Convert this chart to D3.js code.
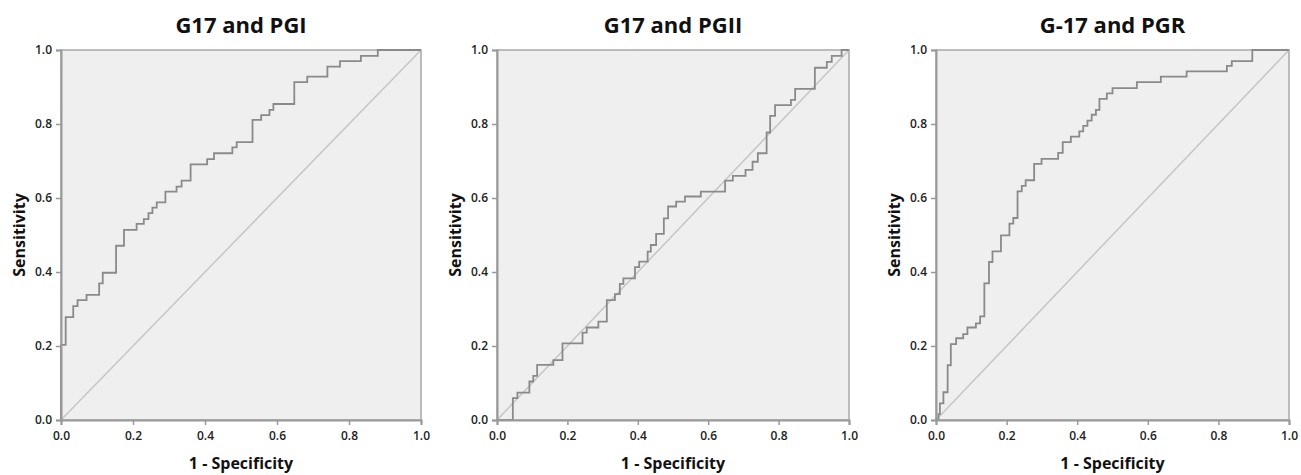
<!DOCTYPE html>
<html>
<head>
<meta charset="utf-8">
<script src="https://cdn.jsdelivr.net/npm/d3@7"></script>
<style>
    body { margin: 0; background: #fff; }
    text { font-family: "Open Sans", sans-serif; }
</style>
</head>
<body>
<script>
    // ROC curves: 1 - specificity (fpr) and sensitivity (tpr)
    var titles = ['G17 and PGI', 'G17 and PGII', 'G-17 and PGR'];
    var tickValues = [0, 0.2, 0.4, 0.6, 0.8, 1.0];

    var fprPGI = [0, 0, 0.013, 0.034, 0.046, 0.071, 0.106, 0.116, 0.153, 0.175, 0.21, 0.23, 0.243, 0.254, 0.266, 0.29, 0.321, 0.335, 0.36, 0.406, 0.425, 0.476, 0.488, 0.532, 0.556, 0.579, 0.59, 0.648, 0.684, 0.74, 0.775, 0.833, 0.88, 1.0];
    var tprPGI = [0, 0.203, 0.278, 0.308, 0.324, 0.338, 0.369, 0.398, 0.471, 0.514, 0.53, 0.543, 0.559, 0.574, 0.588, 0.617, 0.631, 0.647, 0.691, 0.705, 0.721, 0.737, 0.751, 0.811, 0.824, 0.838, 0.854, 0.913, 0.928, 0.955, 0.97, 0.984, 1.0, 1.0];

    var fprPGII = [0, 0.045, 0.058, 0.092, 0.103, 0.114, 0.16, 0.186, 0.243, 0.255, 0.288, 0.312, 0.335, 0.349, 0.359, 0.392, 0.404, 0.428, 0.437, 0.452, 0.474, 0.486, 0.509, 0.534, 0.579, 0.648, 0.67, 0.706, 0.726, 0.741, 0.766, 0.776, 0.79, 0.835, 0.847, 0.903, 0.937, 0.951, 0.979, 1.0];
    var tprPGII = [0, 0.059, 0.074, 0.104, 0.119, 0.149, 0.162, 0.207, 0.236, 0.25, 0.266, 0.324, 0.34, 0.368, 0.383, 0.413, 0.428, 0.455, 0.473, 0.503, 0.545, 0.577, 0.59, 0.604, 0.617, 0.647, 0.66, 0.676, 0.698, 0.721, 0.777, 0.822, 0.851, 0.865, 0.895, 0.952, 0.968, 0.984, 1.0, 1.0];

    var fprPGR = [0, 0.007, 0.011, 0.021, 0.033, 0.042, 0.057, 0.077, 0.089, 0.113, 0.125, 0.137, 0.15, 0.16, 0.184, 0.208, 0.219, 0.231, 0.243, 0.254, 0.278, 0.299, 0.346, 0.359, 0.382, 0.406, 0.417, 0.429, 0.441, 0.453, 0.463, 0.484, 0.5, 0.569, 0.637, 0.71, 0.824, 0.838, 0.896, 1.0];
    var tprPGR = [0, 0.016, 0.045, 0.075, 0.148, 0.205, 0.221, 0.232, 0.25, 0.261, 0.28, 0.369, 0.427, 0.456, 0.499, 0.531, 0.546, 0.618, 0.633, 0.648, 0.692, 0.706, 0.722, 0.751, 0.766, 0.78, 0.795, 0.809, 0.825, 0.838, 0.868, 0.883, 0.897, 0.913, 0.928, 0.942, 0.957, 0.97, 1.0, 1.0];

    var curves = [[fprPGI, tprPGI], [fprPGII, tprPGII], [fprPGR, tprPGR]];

    // panel frames (left, right) in page pixels
    var panels = [[61, 421], [497, 849], [936, 1289]];
    var plotTop = 50, plotBottom = 420;

    var svg = d3.select('body').append('svg')
            .attr('width', 1301)
            .attr('height', 475);

    panels.forEach(function (p, i) {
        var x = d3.scaleLinear().domain([0, 1]).range([p[0], p[1]]);
        var y = d3.scaleLinear().domain([0, 1]).range([plotBottom, plotTop]);
        var g = svg.append('g');

        g.append('rect')
                .attr('x', x(0)).attr('y', y(1))
                .attr('width', x(1) - x(0)).attr('height', y(0) - y(1))
                .attr('fill', '#efefef')
                .attr('stroke', '#a8a8a8')
                .attr('stroke-width', 1.5);

        // reference diagonal
        g.append('line')
                .attr('x1', x(0)).attr('y1', y(0))
                .attr('x2', x(1)).attr('y2', y(1))
                .attr('stroke', '#c6c6c6')
                .attr('stroke-width', 1.5);

        var pts = curves[i][0].map(function (f, k) { return [f, curves[i][1][k]]; });
        var line = d3.line()
                .x(function (d) { return x(d[0]); })
                .y(function (d) { return y(d[1]); })
                .curve(d3.curveStepAfter);
        g.append('path')
                .attr('d', line(pts))
                .attr('fill', 'none')
                .attr('stroke', '#8a8a8a')
                .attr('stroke-width', 1.8);

        var xAxis = g.append('g')
                .attr('transform', 'translate(0,' + plotBottom + ')')
                .call(d3.axisBottom(x).tickValues(tickValues).tickFormat(d3.format('.1f')).tickSize(5).tickPadding(6));
        var yAxis = g.append('g')
                .attr('transform', 'translate(' + p[0] + ',0)')
                .call(d3.axisLeft(y).tickValues(tickValues).tickFormat(d3.format('.1f')).tickSize(5).tickPadding(4));

        [xAxis, yAxis].forEach(function (a) {
            a.select('.domain').attr('stroke', '#999').attr('stroke-width', 2);
            a.selectAll('.tick line').attr('stroke', '#999').attr('stroke-width', 1.5);
            a.selectAll('.tick text')
                    .attr('fill', '#222')
                    .style('font-size', '12px')
                    .style('font-weight', 600);
        });

        var cx = (p[0] + p[1]) / 2;
        svg.append('text')
                .attr('x', cx).attr('y', 33)
                .attr('text-anchor', 'middle')
                .style('font-size', '22px')
                .style('font-weight', 700)
                .attr('fill', '#111')
                .text(titles[i]);

        svg.append('text')
                .attr('x', cx).attr('y', 469)
                .attr('text-anchor', 'middle')
                .style('font-size', '16px')
                .style('font-weight', 700)
                .attr('fill', '#111')
                .text('1 - Specificity');

        svg.append('text')
                .attr('transform', 'translate(' + (p[0] - 36) + ',' + ((plotTop + plotBottom) / 2) + ') rotate(-90)')
                .attr('text-anchor', 'middle')
                .style('font-size', '16px')
                .style('font-weight', 700)
                .attr('fill', '#111')
                .text('Sensitivity');
    });
</script>
</body>
</html>
